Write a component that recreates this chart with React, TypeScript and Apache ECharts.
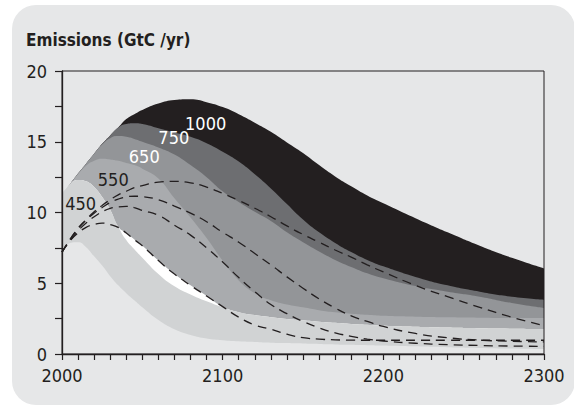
import React, { useEffect, useRef } from "react";
import * as echarts from "echarts";

// ---------- data ----------
const years = [2000, 2005, 2010, 2015, 2020, 2025, 2030, 2035, 2040, 2045, 2050, 2060, 2070, 2080, 2090, 2100, 2110, 2120, 2130, 2140, 2150, 2160, 2170, 2180, 2190, 2200, 2220, 2240, 2260, 2280, 2300];

const top1000 = [11.3, 12.0, 12.75, 13.45, 14.15, 14.85, 15.45, 16.0, 16.6, 16.95, 17.25, 17.7, 17.95, 18.0, 17.8, 17.45, 16.95, 16.35, 15.7, 14.95, 14.2, 13.35, 12.55, 11.85, 11.2, 10.65, 9.6, 8.6, 7.65, 6.8, 6.05];
const top750 = [11.3, 12.0, 12.75, 13.45, 14.15, 14.85, 15.45, 16.0, 16.25, 16.3, 16.25, 15.95, 15.65, 15.35, 14.9, 14.3, 13.6, 12.7, 11.7, 10.6, 9.5, 8.6, 7.85, 7.2, 6.65, 6.2, 5.45, 4.85, 4.4, 4.05, 3.84];
const top650 = [11.3, 12.0, 12.75, 13.45, 14.15, 14.8, 15.25, 15.4, 15.35, 15.2, 15.0, 14.6, 14.1, 13.35, 12.5, 11.5, 10.75, 10.05, 9.4, 8.6, 7.9, 7.25, 6.65, 6.15, 5.7, 5.35, 4.8, 4.4, 4.05, 3.6, 3.25];
const top550 = [11.3, 12.0, 12.7, 13.3, 13.65, 13.8, 13.75, 13.65, 13.5, 13.35, 13.1, 12.4, 11.0, 9.65, 8.2, 6.6, 5.2, 4.3, 3.8, 3.5, 3.3, 3.1, 2.95, 2.85, 2.77, 2.7, 2.64, 2.6, 2.57, 2.55, 2.54];
const bottom550 = [11.3, 12.0, 12.3, 12.2, 11.8, 11.1, 10.2, 9.0, 8.55, 8.1, 7.65, 6.6, 5.65, 4.85, 4.1, 3.35, 2.95, 2.75, 2.6, 2.48, 2.38, 2.28, 2.2, 2.12, 2.06, 2.0, 1.93, 1.87, 1.82, 1.79, 1.77];
const top450 = [11.3, 12.0, 12.3, 12.2, 11.8, 11.1, 10.2, 9.0, 8.05, 7.4, 6.8, 5.65, 4.78, 4.2, 3.72, 3.3, 2.95, 2.75, 2.6, 2.48, 2.38, 2.28, 2.2, 2.12, 2.06, 2.0, 1.93, 1.87, 1.82, 1.79, 1.77];
const bottom450 = [7.2, 7.85, 7.9, 7.55, 6.9, 6.25, 5.5, 4.85, 4.3, 3.8, 3.3, 2.4, 1.75, 1.35, 1.1, 0.98, 0.9, 0.85, 0.8, 0.77, 0.74, 0.71, 0.68, 0.65, 0.62, 0.6, 0.54, 0.48, 0.43, 0.38, 0.34];

const path1 = [7.2, 8.1, 8.9, 9.5, 10.05, 10.5, 10.9, 11.25, 11.5, 11.75, 11.9, 12.15, 12.2, 12.1, 11.8, 11.35, 10.85, 10.3, 9.7, 9.05, 8.45, 7.9, 7.35, 6.85, 6.3, 5.8, 4.85, 4.05, 3.3, 2.6, 2.0];
const path2 = [7.2, 8.1, 8.85, 9.45, 9.95, 10.35, 10.7, 10.95, 11.1, 11.15, 11.12, 10.9, 10.45, 9.95, 9.35, 8.6, 7.9, 7.1, 6.3, 5.45, 4.65, 3.9, 3.25, 2.7, 2.3, 1.95, 1.45, 1.15, 0.98, 0.9, 0.85];
const path3 = [7.2, 8.0, 8.7, 9.25, 9.7, 10.05, 10.3, 10.4, 10.43, 10.35, 10.15, 9.8, 9.1, 8.4, 7.5, 6.5, 5.4, 4.4, 3.5, 2.85, 2.3, 1.85, 1.5, 1.25, 1.05, 0.92, 0.76, 0.66, 0.6, 0.56, 0.54];
const path4 = [7.2, 8.0, 8.55, 8.95, 9.15, 9.25, 9.15, 8.95, 8.55, 8.08, 7.65, 6.6, 5.65, 4.85, 4.1, 3.35, 2.6, 2.05, 1.75, 1.4, 1.15, 1.05, 1.0, 0.98, 0.97, 0.97, 0.97, 0.97, 0.97, 0.97, 0.97];

const xTickLabels = [2000, 2100, 2200, 2300];
const yTickLabels = [0, 5, 10, 15, 20];

const bandLabels = ["1000", "750", "650", "550", "450"];
const bandLabelYears = [2089.4, 2069.6, 2051.2, 2031.9, 2011.6];
const bandLabelValues = [16.28, 15.27, 13.94, 12.32, 10.62];

const titleText = "Emissions (GtC /yr)";

// ---------- styles ----------
const FONT = "'DejaVu Sans Condensed', 'Liberation Sans Narrow', Roboto, sans-serif";
const INK = "#231f20";
const PANEL = "#e6e7e8";
const C1000 = "#231f20";
const C750 = "#6d6e71";
const C650 = "#939598";
const C550 = "#a9abae";
const C450 = "#d1d3d4";
const labelColors = ["#ffffff", "#ffffff", "#ffffff", INK, INK];

const pts = (vals: number[]) => years.map((y, i) => [y, vals[i]]);

const area = (name: string, vals: number[], color: string) => ({
  type: "line",
  name,
  data: pts(vals),
  smooth: true,
  symbol: "none",
  showSymbol: false,
  silent: true,
  lineStyle: { width: 0, color },
  areaStyle: { color, opacity: 1 },
  z: 2,
});

const dashed = (name: string, vals: number[]) => ({
  type: "line",
  name,
  data: pts(vals),
  smooth: true,
  symbol: "none",
  showSymbol: false,
  silent: true,
  lineStyle: { color: INK, width: 1.3, type: [9, 6] },
  z: 3,
});

export default function App() {
  const ref = useRef<HTMLDivElement>(null);

  useEffect(() => {
    if (!ref.current) return;
    const chart = echarts.init(ref.current, undefined, { renderer: "svg" });
    chart.setOption({
      animation: false,
      backgroundColor: "transparent",
      title: {
        text: titleText,
        left: 26,
        top: 31,
        padding: 0,
        textStyle: { fontFamily: FONT, fontSize: 17, fontWeight: "bold", color: INK },
      },
      grid: {
        left: 62,
        top: 71,
        width: 482,
        height: 283,
        show: true,
        borderColor: INK,
        borderWidth: 1,
        backgroundColor: "transparent",
        z: 10,
      },
      xAxis: {
        type: "value",
        min: 2000,
        max: 2300,
        interval: 10,
        z: 10,
        axisLine: { show: true, lineStyle: { color: INK, width: 1.3 } },
        axisTick: { show: true, length: 6, lineStyle: { color: INK, width: 1.2 } },
        splitLine: { show: false },
        axisLabel: {
          showMinLabel: true,
          showMaxLabel: true,
          margin: 12,
          color: INK,
          fontFamily: FONT,
          fontSize: 18,
          formatter: (v: number) => (xTickLabels.includes(v) ? String(v) : ""),
        },
      },
      yAxis: {
        type: "value",
        min: 0,
        max: 20,
        interval: 2.5,
        z: 10,
        axisLine: { show: true, lineStyle: { color: INK, width: 1.3 } },
        axisTick: { show: true, length: 7, lineStyle: { color: INK, width: 1.2 } },
        splitLine: { show: false },
        axisLabel: {
          showMinLabel: true,
          showMaxLabel: true,
          margin: 15,
          color: INK,
          fontFamily: FONT,
          fontSize: 18,
          formatter: (v: number) => (yTickLabels.includes(v) ? String(v) : ""),
        },
      },
      series: [
        area("1000", top1000, C1000),
        area("750", top750, C750),
        area("650", top650, C650),
        area("550", top550, C550),
        area("gap", bottom550, "#ffffff"),
        area("450", top450, C450),
        area("below", bottom450, PANEL),
        dashed("p1", path1),
        dashed("p2", path2),
        dashed("p3", path3),
        dashed("p4", path4),
      ],
    });

    const texts = bandLabels.map((t, i) => {
      const p = chart.convertToPixel({ gridIndex: 0 }, [bandLabelYears[i], bandLabelValues[i]]) as number[];
      return {
        type: "text",
        x: p[0],
        y: p[1],
        z: 20,
        silent: true,
        style: {
          text: t,
          fill: labelColors[i],
          fontFamily: FONT,
          fontSize: 18,
          align: "center",
          verticalAlign: "middle",
          textAlign: "center",
          textVerticalAlign: "middle",
        },
      };
    });

    chart.setOption({
      graphic: [
        {
          type: "rect",
          z: -10,
          silent: true,
          shape: { x: 12, y: 5, width: 563, height: 400, r: 24 },
          style: { fill: PANEL },
        },
        ...texts,
      ],
    });

    return () => chart.dispose();
  }, []);

  return (
    <div style={{ position: "fixed", left: 0, top: 0, width: 574, height: 407, background: "#ffffff" }}>
      <div ref={ref} style={{ width: 574, height: 407 }} />
    </div>
  );
}
